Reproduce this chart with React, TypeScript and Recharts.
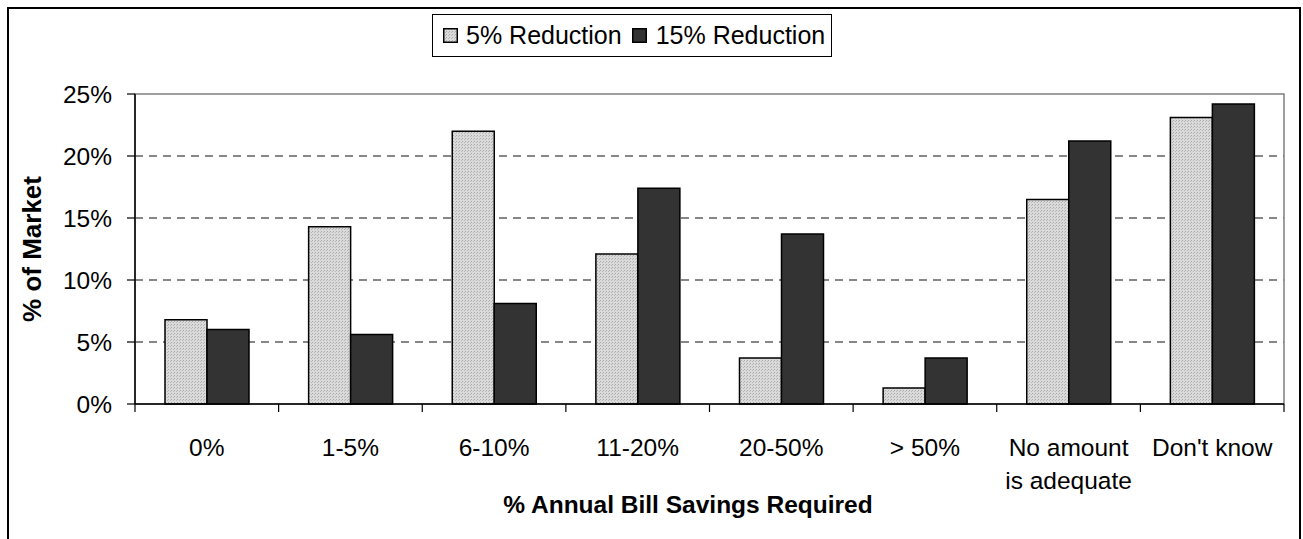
import { BarChart, Bar, XAxis, YAxis, CartesianGrid, Legend, ReferenceArea, Label } from "recharts";

const categories = ["0%", "1-5%", "6-10%", "11-20%", "20-50%", "> 50%", "No amount\nis adequate", "Don't know"];
const reduction5 = [6.8, 14.3, 22.0, 12.1, 3.7, 1.3, 16.5, 23.1];
const reduction15 = [6.0, 5.6, 8.1, 17.4, 13.7, 3.7, 21.2, 24.2];
const yTicks = [0, 5, 10, 15, 20, 25];

const data = categories.map((c, i) => ({ name: c, r5: reduction5[i], r15: reduction15[i] }));

const FONT = "'Liberation Sans', Arial, sans-serif";
const W = 1303;
const H = 539;
const margin = { top: 94, right: 19, bottom: 0, left: 35 };
const Y_WIDTH = 100;
const X_HEIGHT = 135;
const band = (W - margin.left - margin.right - Y_WIDTH) / categories.length;

function CategoryTick(props: any) {
  const { x, y, payload, index } = props;
  const lines = String(payload.value).split("\n");
  const left = x - band / 2;
  return (
    <g>
      <line x1={left} y1={y} x2={left} y2={y + 8} stroke="#000" strokeWidth={1.2} />
      {index === categories.length - 1 && (
        <line x1={left + band} y1={y} x2={left + band} y2={y + 8} stroke="#000" strokeWidth={1.2} />
      )}
      <text x={x} y={y + 52} textAnchor="middle" fill="#000" fontSize={24.5} fontFamily={FONT}>
        {lines.map((l, i) => (
          <tspan key={i} x={x} dy={i === 0 ? 0 : 33}>
            {l}
          </tspan>
        ))}
      </text>
    </g>
  );
}

function Swatch({ fill }: { fill: string }) {
  return (
    <svg width={15} height={15} style={{ display: "block" }}>
      <defs>
        <pattern id="legendDots" width={3} height={3} patternUnits="userSpaceOnUse">
          <rect width={3} height={3} fill="#dadada" />
          <rect width={1} height={1} fill="#a9a9a9" />
          <rect x={2} y={1} width={1} height={1} fill="#b8b8b8" />
        </pattern>
      </defs>
      <rect x={0.75} y={0.75} width={13.5} height={13.5} fill={fill} stroke="#000" strokeWidth={1.5} />
    </svg>
  );
}

function LegendBox() {
  return (
    <div
      style={{
        boxSizing: "border-box",
        width: 400,
        height: 43,
        border: "1px solid #000",
        background: "#fff",
        display: "flex",
        alignItems: "center",
        paddingLeft: 10,
        fontFamily: FONT,
        fontSize: 25,
        color: "#000",
        whiteSpace: "nowrap",
      }}
    >
      <Swatch fill="url(#legendDots)" />
      <span style={{ marginLeft: 8 }}>5% Reduction</span>
      <span style={{ marginLeft: 10 }}>
        <Swatch fill="#333333" />
      </span>
      <span style={{ marginLeft: 9 }}>15% Reduction</span>
    </div>
  );
}

export default function App() {
  return (
    <div style={{ position: "absolute", left: 0, top: 0, width: W, height: H, overflow: "hidden", background: "#fff" }}>
      <div
        style={{
          position: "absolute",
          left: 7,
          top: 7,
          width: 1294,
          height: H,
          boxSizing: "border-box",
          borderLeft: "2px solid #000",
          borderTop: "2px solid #000",
          borderRight: "2px solid #000",
        }}
      />
      <BarChart
        width={W}
        height={H}
        data={data}
        margin={margin}
        barGap={0}
        barSize={42}
        style={{ position: "absolute", left: 0, top: 0 }}
      >
        <defs>
          <pattern id="dots" width={3} height={3} patternUnits="userSpaceOnUse">
            <rect width={3} height={3} fill="#dadada" />
            <rect width={1} height={1} fill="#a9a9a9" />
            <rect x={2} y={1} width={1} height={1} fill="#b8b8b8" />
          </pattern>
        </defs>
        <ReferenceArea y1={0} y2={25} fill="none" stroke="#808080" strokeWidth={1.5} ifOverflow="visible" />
        <CartesianGrid
          vertical={false}
          horizontalValues={[5, 10, 15, 20]}
          stroke="#111"
          strokeWidth={1.2}
          strokeDasharray="8 6"
        />
        <XAxis
          dataKey="name"
          interval={0}
          height={X_HEIGHT}
          tickLine={false}
          tickSize={0}
          tickMargin={0}
          axisLine={{ stroke: "#000", strokeWidth: 1.5 }}
          tick={<CategoryTick />}
        >
          <Label
            content={(p: any) => (
              <text
                x={p.viewBox.x + 553}
                y={513}
                textAnchor="middle"
                fontSize={24.5}
                fontWeight="bold"
                fontFamily={FONT}
                fill="#000"
              >
                % Annual Bill Savings Required
              </text>
            )}
          />
        </XAxis>
        <YAxis
          width={Y_WIDTH}
          domain={[0, 25]}
          ticks={yTicks}
          interval={0}
          tickFormatter={(v: number) => `${v}%`}
          tickSize={8}
          tickMargin={15}
          tickLine={{ stroke: "#000", strokeWidth: 1.2 }}
          axisLine={{ stroke: "#000", strokeWidth: 1.5 }}
          tick={{ fill: "#000", fontSize: 24.5, fontFamily: FONT }}
        >
          <Label
            content={() => (
              <text
                x={32}
                y={249}
                transform="rotate(-90 32 249)"
                textAnchor="middle"
                dominantBaseline="central"
                fontSize={26}
                fontWeight="bold"
                fontFamily={FONT}
                fill="#000"
              >
                % of Market
              </text>
            )}
          />
        </YAxis>
        <Legend
          verticalAlign="middle"
          layout="horizontal"
          content={<LegendBox />}
          wrapperStyle={{ left: 432, top: 14, width: 400, height: 43 }}
        />
        <Bar dataKey="r5" name="5% Reduction" fill="url(#dots)" stroke="#000" strokeWidth={1.5} isAnimationActive={false} />
        <Bar dataKey="r15" name="15% Reduction" fill="#333333" stroke="#000" strokeWidth={1.5} isAnimationActive={false} />
      </BarChart>
    </div>
  );
}
